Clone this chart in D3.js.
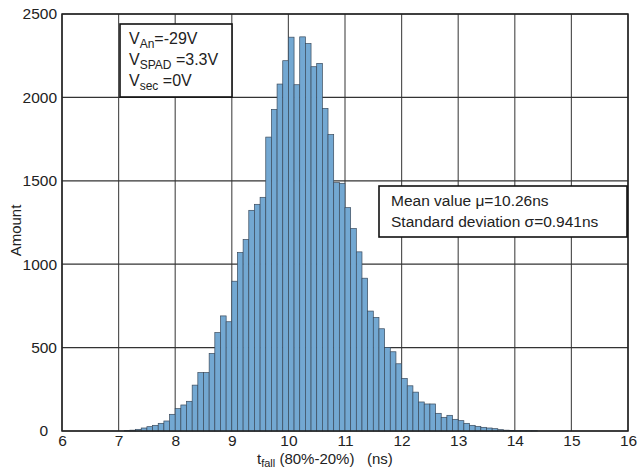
<!DOCTYPE html>
<html>
<head>
<meta charset="utf-8">
<script src="https://cdn.jsdelivr.net/npm/d3@7"></script>
<style>
  body { margin: 0; background: #fff; }
  text { font-family: "Liberation Sans", Arial, sans-serif; fill: #222; white-space: pre; }
</style>
</head>
<body>
<script>
// Histogram data: bin starts (ns) and counts, bin width 0.1 ns
var binStart = 7.0;
var binWidth = 0.1;
var counts = [
  0, 3, 5, 10, 18, 26, 34, 46, 60, 100,
  134, 156, 178, 275, 350, 350, 465, 590, 690, 655,
  898, 1070, 1148, 1323, 1359, 1401, 1762, 1928, 2080, 2220,
  2361, 2076, 2363, 2323, 2184, 2204, 1934, 1777, 1489, 1485,
  1339, 1214, 1074, 916, 719, 681, 613, 501, 475, 403,
  315, 271, 233, 174, 162, 162, 106, 82, 94, 70,
  62, 46, 34, 28, 22, 18, 14, 8, 5, 3,
  2, 2, 2, 2
];
var xTicks = [6, 7, 8, 9, 10, 11, 12, 13, 14, 15, 16];
var yTicks = [0, 500, 1000, 1500, 2000, 2500];
var paramLines = [
  { main: "V", sub: "An", rest: "=-29V" },
  { main: "V", sub: "SPAD", rest: " =3.3V" },
  { main: "V", sub: "sec", rest: " =0V" }
];
var statLines = ["Mean value \u03bc=10.26ns", "Standard deviation \u03c3=0.941ns"];

var bins = counts.map(function (c, i) {
  return { x0: binStart + i * binWidth, x1: binStart + (i + 1) * binWidth, n: c };
});

// Chart Params
var svgWidth = 638;
var svgHeight = 468;
var margin = { top: 14, right: 10, bottom: 37, left: 62 };
var width = svgWidth - margin.left - margin.right;
var height = svgHeight - margin.top - margin.bottom;

var svg = d3.select("body")
  .append("svg")
  .attr("width", svgWidth)
  .attr("height", svgHeight);

var chartGroup = svg.append("g")
  .attr("transform", `translate(${margin.left}, ${margin.top})`);

var xScale = d3.scaleLinear().domain([6, 16]).range([0, width]);
var yScale = d3.scaleLinear().domain([0, 2500]).range([height, 0]);

// grid
chartGroup.append("g")
  .selectAll("line")
  .data(xTicks)
  .enter()
  .append("line")
  .attr("x1", d => xScale(d))
  .attr("x2", d => xScale(d))
  .attr("y1", 0)
  .attr("y2", height)
  .attr("stroke", "#555")
  .attr("stroke-width", 1.2);

chartGroup.append("g")
  .selectAll("line")
  .data(yTicks)
  .enter()
  .append("line")
  .attr("x1", 0)
  .attr("x2", width)
  .attr("y1", d => yScale(d))
  .attr("y2", d => yScale(d))
  .attr("stroke", "#333")
  .attr("stroke-width", 1.2);

// bars
chartGroup.selectAll("rect.bar")
  .data(bins.filter(d => d.n > 0))
  .enter()
  .append("rect")
  .attr("class", "bar")
  .attr("x", d => xScale(d.x0))
  .attr("y", d => yScale(d.n))
  .attr("width", d => xScale(d.x1) - xScale(d.x0))
  .attr("height", d => height - yScale(d.n))
  .attr("fill", "#73a8d2")
  .attr("stroke", "#3a4a5c")
  .attr("stroke-width", 0.7);

// frame
chartGroup.append("rect")
  .attr("width", width)
  .attr("height", height)
  .attr("fill", "none")
  .attr("stroke", "#222")
  .attr("stroke-width", 1.5);

// axes
var bottomAxis = d3.axisBottom(xScale).tickValues(xTicks).tickSize(0).tickPadding(4);
var leftAxis = d3.axisLeft(yScale).tickValues(yTicks).tickSize(0).tickPadding(5)
  .tickFormat(d3.format("d"));

var xAxisG = chartGroup.append("g")
  .attr("transform", `translate(0, ${height})`)
  .call(bottomAxis);
var yAxisG = chartGroup.append("g").call(leftAxis);

[xAxisG, yAxisG].forEach(function (g) {
  g.select(".domain").remove();
  g.selectAll("text")
    .attr("font-size", "15.5px")
    .attr("font-family", "Liberation Sans, Arial, sans-serif")
    .attr("fill", "#222");
});
yAxisG.selectAll(".tick text").filter(d => d === 0).attr("x", -14);

// axis titles
chartGroup.append("text")
  .attr("transform", "rotate(-90)")
  .attr("x", -(height / 2) - 8)
  .attr("y", -41)
  .attr("text-anchor", "middle")
  .attr("font-size", "15px")
  .text("Amount");

var xTitle = svg.append("text")
  .attr("x", 257)
  .attr("y", 464)
  .attr("font-size", "15px");
xTitle.append("tspan").text("t");
xTitle.append("tspan").attr("font-size", "11px").attr("dy", 3).text("fall");
xTitle.append("tspan").attr("dy", -3).text(" (80%-20%)\u00a0\u00a0\u00a0(ns)");

// parameter box
var pBox = svg.append("g").attr("transform", "translate(120, 24)");
pBox.append("rect")
  .attr("width", 112)
  .attr("height", 73)
  .attr("fill", "#fff")
  .attr("stroke", "#111")
  .attr("stroke-width", 1.6);
paramLines.forEach(function (p, i) {
  var t = pBox.append("text")
    .attr("x", 9)
    .attr("y", 20 + i * 21)
    .attr("font-size", "16px");
  t.append("tspan").text(p.main);
  t.append("tspan").attr("font-size", "12px").attr("dy", 4).text(p.sub);
  t.append("tspan").attr("dy", -4).text(p.rest);
});

// statistics box
var sBox = svg.append("g").attr("transform", "translate(379, 186)");
sBox.append("rect")
  .attr("width", 248)
  .attr("height", 51)
  .attr("fill", "#fff")
  .attr("stroke", "#111")
  .attr("stroke-width", 1.6);
sBox.selectAll("text.stat")
  .data(statLines)
  .enter()
  .append("text")
  .attr("x", 12)
  .attr("y", (d, i) => 20 + i * 21)
  .attr("font-size", "15.5px")
  .text(d => d);
</script>
</body>
</html>
